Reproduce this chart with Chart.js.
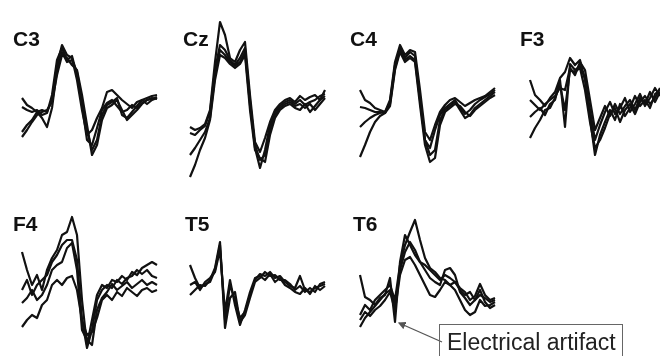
<!DOCTYPE html>
<html>
<head>
<meta charset="utf-8">
<script src="https://cdn.jsdelivr.net/npm/chart.js@4"></script>
<style>
  html, body { margin: 0; padding: 0; background: #fff; }
  body { width: 660px; height: 356px; position: relative; overflow: hidden; font-family: "Liberation Sans", Arial, sans-serif; }
  canvas { position: absolute; }
  .lbl { position: absolute; font-size: 21px; line-height: 21px; font-weight: bold; color: #111; }
  #note { position: absolute; left: 439px; top: 324px; width: 184px; height: 40px; border: 1.5px solid #666; box-sizing: border-box; }
  #note span { position: absolute; left: 7px; top: 6px; font-size: 23px; line-height: 23px; color: #222; white-space: nowrap; }
  svg { position: absolute; left: 0; top: 0; }
</style>
</head>
<body>
<script>
// sample times (ms), one every 10 ms
const timeMs = [0,10,20,30,40,50,60,70,80,90,100,110,120,130,140,150,160,170,180,190,200,210,220,230,240,250,260,270];

// amplitudes (arbitrary µV units), four or three sweeps per electrode
const C3 = [
  [12,5,2,-2,0,-2,10,45,65,55,52,30,0,-25,-20,-8,2,18,20,15,10,6,2,8,10,12,14,15],
  [3,0,-2,0,-5,-3,15,50,62,50,54,35,5,-30,-35,-18,0,7,10,4,-2,0,5,2,7,10,11,13],
  [-22,-15,-10,-2,-8,-17,2,40,58,48,50,38,10,-20,-40,-30,-5,5,8,12,-5,-8,-2,4,10,6,10,12],
  [-27,-20,-12,-5,-2,0,8,35,55,52,45,40,15,-15,-45,-35,-10,2,5,10,0,-10,-5,0,6,10,12,11]
];
const Cz = [
  [-17,-20,-18,-14,0,48,88,75,52,48,60,68,15,-32,-42,-28,-12,0,6,10,12,8,14,10,13,15,10,20],
  [-23,-25,-20,-16,-2,40,65,60,50,45,52,62,10,-38,-58,-40,-15,-2,4,8,10,6,10,5,8,10,14,16],
  [-45,-38,-30,-22,-8,35,60,55,48,44,48,58,5,-35,-50,-45,-20,-5,2,6,8,4,6,2,6,0,6,12],
  [-67,-55,-40,-28,-10,30,55,52,46,42,46,55,0,-40,-48,-52,-25,-8,0,4,6,2,0,6,-2,4,10,14]
];
const C4 = [
  [20,10,7,2,0,-2,10,48,65,55,60,58,20,-22,-30,-15,-2,5,10,12,8,4,7,10,12,14,18,22],
  [3,2,0,-2,-2,-3,8,45,62,52,58,54,12,-30,-38,-20,-5,2,6,10,2,-4,0,6,10,13,16,20],
  [-17,-12,-8,-5,-3,-2,6,42,60,50,54,50,10,-30,-45,-40,-10,0,4,8,0,-8,-5,2,6,10,14,18],
  [-47,-35,-22,-12,-6,-3,4,40,58,48,52,48,5,-35,-52,-48,-15,-2,2,6,4,-2,-6,0,4,8,12,15]
];
const F3 = [
  [30,15,10,4,12,18,32,38,52,45,50,30,0,-30,-15,-2,8,-4,2,12,-2,6,16,4,12,22,14],
  [10,5,0,6,10,14,22,20,42,35,48,40,10,-20,-8,4,-6,6,-4,4,10,0,12,6,18,8,18],
  [-7,-2,2,-5,6,10,30,-17,46,40,44,32,-8,-45,-25,-12,0,-10,6,-6,2,14,4,10,2,16,20],
  [-28,-18,-10,0,2,12,25,0,40,38,42,20,-12,-38,-30,-18,-4,2,-12,0,6,-4,8,14,6,12,22]
];
const F4 = [
  [33,15,0,10,-5,15,27,35,50,53,68,50,-15,-60,-35,-10,0,-3,5,3,9,5,13,10,17,20,23,20],
  [-5,5,-10,0,5,10,23,30,40,45,45,25,-35,-63,-45,-15,-5,0,-3,5,1,7,9,15,11,15,9,7],
  [-18,-13,-5,-15,-10,0,15,20,23,37,42,15,-45,-55,-60,-25,-13,-7,1,-5,-1,3,-3,1,5,0,3,0],
  [-42,-35,-30,-33,-20,-15,0,5,0,7,9,-5,-35,-50,-47,-33,-15,-10,-15,-7,-11,-3,-7,-11,-5,-3,-7,-5]
];
const T5 = [
  [20,7,-3,1,3,15,40,-35,0,-15,-33,-27,-10,5,11,9,13,7,9,3,-1,-3,9,-5,-7,-3,-1,1],
  [-10,-5,0,-1,5,17,43,-43,-13,-7,-37,-30,-13,3,7,13,9,10,5,5,1,-5,-1,-7,-3,-7,1,3],
  [0,3,-5,3,7,13,35,-27,5,-20,-40,-25,-7,7,9,5,11,3,7,0,-3,-7,-9,-3,-9,-1,-5,-1]
];
const T6 = [
  [-30,-20,-25,-15,-10,-5,0,-15,20,40,53,65,45,27,17,13,7,5,0,3,-5,-10,-7,-15,-10,-13,-17,-15],
  [10,-12,-15,-20,-13,-10,7,-37,23,50,40,30,23,20,15,10,5,10,7,3,-3,-7,-15,-11,1,-10,-15,-13],
  [-42,-33,-27,-21,-15,-9,-5,-20,15,33,43,35,23,15,7,3,0,15,17,10,-7,-13,-20,-15,-5,-17,-23,-20],
  [-35,-27,-31,-25,-21,-15,-7,-25,10,25,28,20,10,0,-10,-12,-5,3,0,-5,-15,-25,-30,-27,-15,-21,-20,-17]
];

const panels = [
  { name: 'C3', sweeps: C3, left: 22,  row: 0, lx: 13 },
  { name: 'Cz', sweeps: Cz, left: 190, row: 0, lx: 183 },
  { name: 'C4', sweeps: C4, left: 360, row: 0, lx: 350 },
  { name: 'F3', sweeps: F3, left: 530, row: 0, lx: 520 },
  { name: 'F4', sweeps: F4, left: 22,  row: 1, lx: 13 },
  { name: 'T5', sweeps: T5, left: 190, row: 1, lx: 185 },
  { name: 'T6', sweeps: T6, left: 360, row: 1, lx: 353 }
];

// per row: plot top/bottom in px and amplitude range
const rows = [
  { top: 5,   bottom: 185, max: 105, min: -75, labelTop: 28 },
  { top: 200, bottom: 356, max: 85,  min: -71, labelTop: 213 }
];
const pad = 3;
const dx = 5;

panels.forEach(p => {
  const r = rows[p.row];
  const n = p.sweeps[0].length;
  const cv = document.createElement('canvas');
  cv.width = (n - 1) * dx + 2 * pad;
  cv.height = (r.bottom - r.top) + 2 * pad;
  cv.style.left = (p.left - pad) + 'px';
  cv.style.top = (r.top - pad) + 'px';
  document.body.appendChild(cv);

  const lbl = document.createElement('div');
  lbl.className = 'lbl';
  lbl.textContent = p.name;
  lbl.style.left = p.lx + 'px';
  lbl.style.top = r.labelTop + 'px';
  document.body.appendChild(lbl);

  new Chart(cv, {
    type: 'line',
    data: {
      labels: timeMs.slice(0, n),
      datasets: p.sweeps.map(s => ({
        data: s,
        borderColor: '#111',
        borderWidth: 2.2,
        borderJoinStyle: 'round',
        pointRadius: 0,
        tension: 0,
        fill: false,
        clip: false
      }))
    },
    options: {
      responsive: false,
      animation: false,
      devicePixelRatio: 1,
      layout: { padding: pad },
      plugins: { legend: { display: false }, tooltip: { enabled: false } },
      scales: {
        x: { display: false, offset: false },
        y: { display: false, min: r.min, max: r.max }
      }
    }
  });
});
</script>
<svg width="660" height="356">
  <defs>
    <marker id="ah" markerWidth="6" markerHeight="6" refX="5" refY="3" orient="auto">
      <path d="M0,0 L6,3 L0,6 z" fill="#555"/>
    </marker>
  </defs>
  <line x1="442" y1="342" x2="399" y2="323" stroke="#555" stroke-width="1.3" marker-end="url(#ah)"/>
</svg>
<div id="note"><span>Electrical artifact</span></div>
</body>
</html>
